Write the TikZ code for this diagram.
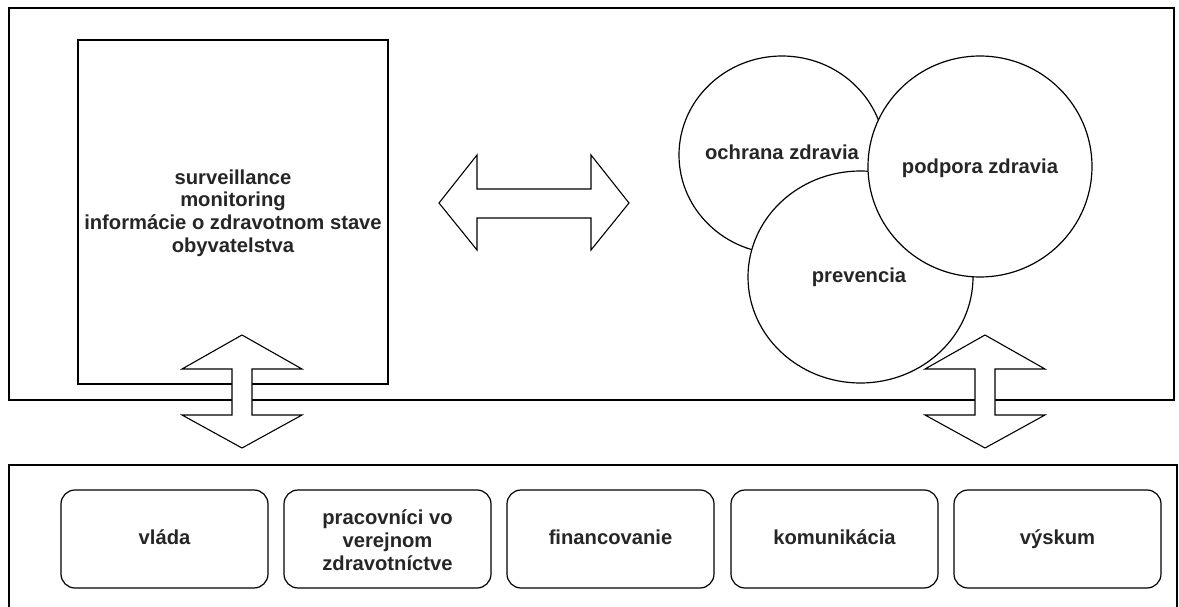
\documentclass[tikz,border=0pt]{standalone}
\usepackage{fontspec}
\setmainfont{Liberation Sans}
\begin{document}
\begin{tikzpicture}[x=1pt,y=-1pt,
  line width=1.2pt, line join=miter,
  lbl/.style={font=\fontsize{20.2}{22.7}\selectfont\bfseries, text=black!85, align=center, inner sep=0pt},
  oneline/.style={lbl, text height=0.72em, text depth=0pt},
  frame/.style={draw=black, fill=white},
  blob/.style={draw=black, fill=white},
  card/.style={draw=black, fill=white, rounded corners=14pt},
  blockarrow/.style={draw=black, fill=white, line width=1.1pt}]
\useasboundingbox (0,0) rectangle (1179,607);
\clip (0,0) rectangle (1179,607);
% frames
\draw[frame] (9,8) rectangle (1174,400);
\draw[frame] (9,465) rectangle (1177,620);
% left box
\draw[frame] (78,40) rectangle (388,384);
\node[lbl] (info) at (233,213) {surveillance\\monitoring\\informácie o zdravotnom stave\\obyvatelstva};
% circles
\draw[blob] (782,155) ellipse [x radius=103, y radius=99];
\draw[blob] (860.5,277) ellipse [x radius=112.5, y radius=106];
\draw[blob] (980,166.5) ellipse [x radius=112, y radius=110.5];
\node[oneline] (ochrana) at (782,156) {ochrana zdravia};
\node[oneline] (prevencia) at (859,279) {prevencia};
\node[oneline] (podpora) at (980,170) {podpora zdravia};
% horizontal double arrow
\draw[blockarrow] (439,203) -- (477,155) -- (477,189) -- (591,189) -- (591,155) -- (629,203)
  -- (591,250) -- (591,218) -- (477,218) -- (477,250) -- cycle;
% vertical double arrows
\draw[blockarrow] (242,335) -- (302,369) -- (252,369) -- (252,415) -- (302,415) -- (242,448)
  -- (182,415) -- (232,415) -- (232,369) -- (182,369) -- cycle;
\draw[blockarrow] (985,335) -- (1045,369) -- (995,369) -- (995,415) -- (1045,415) -- (985,448)
  -- (925,415) -- (975,415) -- (975,369) -- (925,369) -- cycle;
% bottom cards
\foreach \i/\x/\t in {1/61/vláda, 3/507/financovanie, 4/731/komunikácia, 5/954/výskum}{
  \draw[card] (\x,490) rectangle ++(207,98);
  \node[oneline] (card\i) at (\x+103.5,540.5) {\t};
}
\draw[card] (284,490) rectangle ++(207,98);
\node[lbl] (card2) at (387.5,540) {pracovníci vo\\verejnom\\zdravotníctve};
\end{tikzpicture}
\end{document}
